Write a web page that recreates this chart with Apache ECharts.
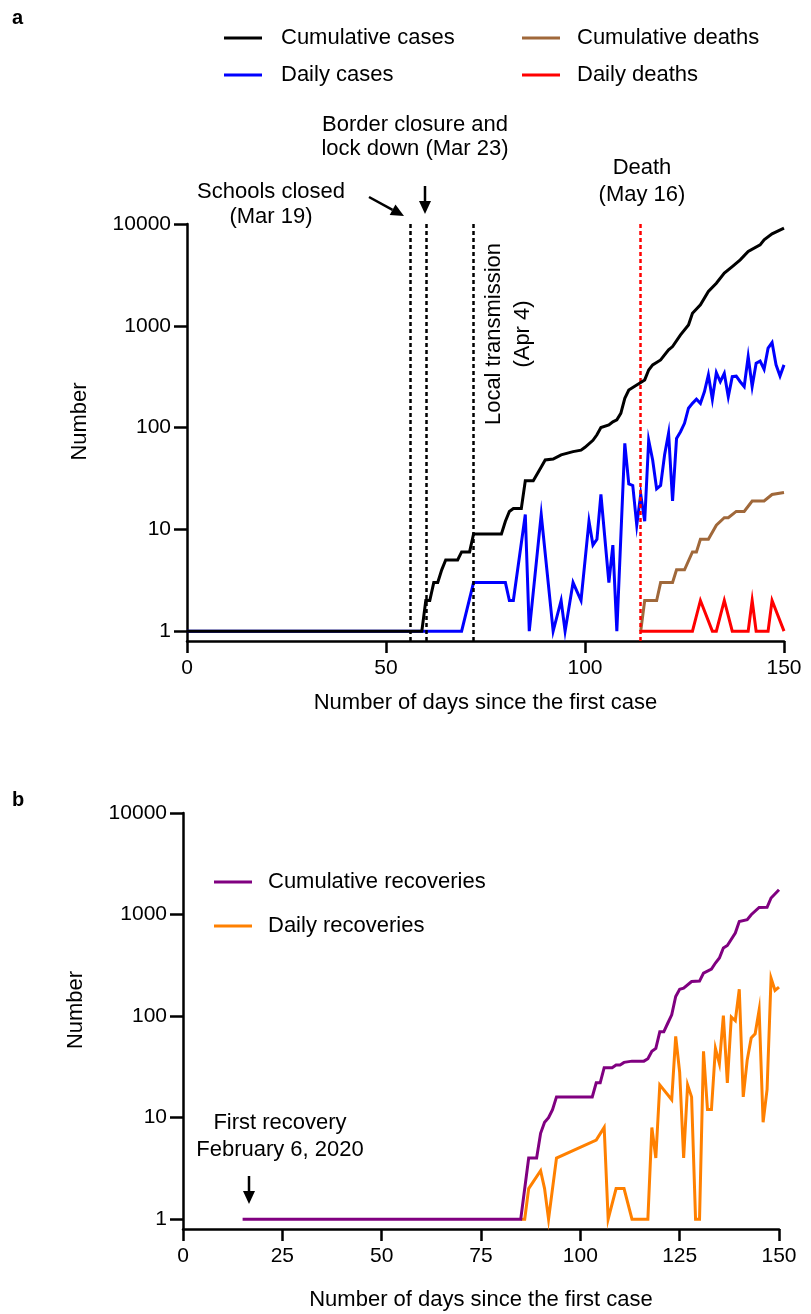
<!DOCTYPE html>
<html>
<head>
    <meta charset="UTF-8">
    <script src="https://cdn.jsdelivr.net/npm/echarts@6/dist/echarts.min.js"></script>
    <style>
        body { margin: 0; background: #fff; }
        #chart { width: 811px; height: 1314px; }
    </style>
</head>
<body>
<div id="chart"></div>
<script>
    // panel a - cases and deaths (x = days since first case)
    const cumCasesDay = [0, 59, 60, 61, 62, 63, 64, 65, 68, 69, 71, 72, 79, 80, 81, 82, 84, 85, 87, 89, 90, 92, 94, 97, 99, 100, 102, 103, 104, 106, 107, 108, 109, 110, 111, 113, 115, 116, 117, 119, 121, 122, 124, 126, 127, 129, 131, 133, 135, 137, 139, 141, 144, 145, 147, 150];
    const cumCases = [1, 1, 2, 2, 3, 3, 4, 5, 5, 6, 6, 9, 9, 12, 15, 16, 16, 30, 30, 41, 48, 49, 54, 58, 60, 64, 75, 85, 100, 106, 114, 119, 138, 194, 234, 262, 294, 368, 413, 462, 580, 625, 813, 1020, 1330, 1605, 2170, 2620, 3290, 3820, 4450, 5370, 6240, 7000, 8010, 9120];

    const dailyCasesDay = [0, 60, 69, 72, 80, 81, 82, 85, 86, 89, 92, 94, 95, 97, 99, 101, 102, 103, 104, 106, 107, 108, 110, 111, 112, 113, 114, 115, 116, 117, 118, 119, 120, 121, 122, 123, 124, 125, 126, 127, 128, 129, 130, 131, 132, 133, 134, 135, 136, 137, 138, 139, 140, 141, 142, 143, 144, 145, 146, 147, 148, 149, 150];
    const dailyCases = [1, 1, 1, 3, 3, 2, 2, 14, 1, 14, 1, 2, 1, 3, 2, 12, 7, 8, 22, 3, 7, 1, 70, 28, 27, 11, 22, 12, 75, 48, 25, 27, 54, 88, 19, 78, 91, 110, 155, 173, 190, 173, 225, 329, 190, 347, 282, 340, 201, 316, 320, 282, 253, 498, 253, 429, 450, 374, 603, 684, 413, 321, 413];

    const cumDeathsDay = [114, 115, 118, 119, 122, 123, 125, 127, 128, 129, 131, 133, 135, 136, 138, 140, 142, 145, 147, 150];
    const cumDeaths = [1, 2, 2, 3, 3, 4, 4, 6, 6, 8, 8, 11, 13, 13, 15, 15, 19, 19, 22, 23];

    const dailyDeathsDay = [114, 127, 129, 132, 133, 135, 137, 141, 142, 143, 146, 147, 150];
    const dailyDeaths = [1, 1, 2, 1, 1, 2, 1, 1, 2, 1, 1, 2, 1];

    // schools closed, lock down, local transmission / first death
    const eventDays = [56, 60, 72];
    const deathDay = 114;

    // panel b - recoveries
    const cumRecDay = [15, 85, 87, 89, 90, 91, 92, 93, 94, 103, 104, 105, 106, 108, 109, 110, 111, 113, 116, 117, 118, 119, 120, 121, 122, 123, 124, 125, 126, 128, 130, 131, 133, 134, 135, 136, 137, 139, 140, 142, 143, 145, 147, 148, 150];
    const cumRec = [1, 1, 4, 4, 7, 9, 10, 12, 16, 16, 22, 22, 31, 31, 33, 33, 35, 36, 36, 38, 45, 48, 70, 70, 85, 103, 156, 184, 188, 219, 221, 265, 290, 333, 373, 468, 496, 657, 855, 889, 995, 1175, 1180, 1455, 1755];

    const dailyRecDay = [85, 86, 87, 90, 91, 92, 94, 104, 106, 107, 109, 111, 113, 117, 118, 119, 120, 123, 124, 125, 126, 127, 128, 129, 130, 131, 132, 133, 134, 135, 136, 137, 138, 139, 140, 141, 142, 143, 144, 145, 146, 147, 148, 149, 150];
    const dailyRec = [1, 1, 2, 3, 2, 1, 4, 6, 8, 1, 2, 2, 1, 1, 8, 4, 21, 15, 63, 28, 4, 21, 16, 1, 1, 45, 12, 12, 48, 34, 101, 22, 98, 90, 184, 16, 37, 61, 67, 115, 9, 19, 237, 179, 193];

    const yTicks = [1, 10, 100, 1000, 10000];

    const FONT = '"Liberation Sans", Arial, sans-serif';

    function pairs(days, vals) {
        return days.map(function (d, i) { return [d, vals[i]]; });
    }

    function line(name, days, vals, color, idx, z) {
        return {
            name: name,
            type: 'line',
            xAxisIndex: idx,
            yAxisIndex: idx,
            data: pairs(days, vals),
            color: color,
            symbol: 'none',
            z: z,
            silent: true,
            lineStyle: {color: color, width: 3, join: 'miter'},
            emphasis: {disabled: true}
        };
    }

    function xAxis(idx, interval, gap) {
        return {
            type: 'value', gridIndex: idx, min: 0, max: 150, interval: interval,
            axisLine: {show: true, onZero: false, lineStyle: {color: '#000', width: 2.5}},
            axisTick: {show: true, length: 12, lineStyle: {color: '#000', width: 2.5}},
            axisLabel: {fontSize: 21, color: '#000', margin: 17, fontFamily: FONT},
            splitLine: {show: false},
            name: 'Number of days since the first case',
            nameLocation: 'middle', nameGap: gap,
            nameTextStyle: {fontSize: 22, color: '#000', fontFamily: FONT}
        };
    }

    function yAxis(idx) {
        return {
            type: 'log', gridIndex: idx, min: 0.8, max: 10000,
            axisLine: {show: true, lineStyle: {color: '#000', width: 2.5}},
            axisTick: {show: true, length: 13, lineStyle: {color: '#000', width: 2.5}, customValues: yTicks},
            axisLabel: {
                fontSize: 21, color: '#000', margin: 16, fontFamily: FONT, customValues: yTicks,
                formatter: function (v) { return String(Math.round(v)); }
            },
            splitLine: {show: false},
            minorTick: {show: false},
            name: 'Number', nameLocation: 'middle', nameGap: 96,
            nameTextStyle: {fontSize: 22, color: '#000', fontFamily: FONT, padding: [0, 0, 0, 22]}
        };
    }

    function legend(names, left, top, gap, textPad) {
        return {
            data: names, orient: 'vertical', left: left, top: top, padding: 0,
            itemWidth: 38, itemHeight: 3, itemGap: gap, icon: 'rect',
            textStyle: {fontSize: 22, color: '#000', fontFamily: FONT, lineHeight: 24, padding: [0, 0, 0, textPad]}
        };
    }

    function arrow(x1, y1, x2, y2) {
        const a = Math.atan2(y2 - y1, x2 - x1);
        const L = 13, W = 6;
        const bx = x2 - L * Math.cos(a), by = y2 - L * Math.sin(a);
        const px = -Math.sin(a) * W, py = Math.cos(a) * W;
        return [
            {type: 'line', shape: {x1: x1, y1: y1, x2: bx, y2: by}, style: {stroke: '#000', lineWidth: 2.5}},
            {type: 'polygon', shape: {points: [[x2, y2], [bx + px, by + py], [bx - px, by - py]]}, style: {fill: '#000'}}
        ];
    }

    function label(text, x, y, lh, extra) {
        return Object.assign({
            type: 'text', x: x, y: y,
            style: {text: text, x: 0, y: 0, align: 'center', verticalAlign: 'middle', lineHeight: lh,
                fontSize: 22, fill: '#000', fontFamily: FONT}
        }, extra || {});
    }

    const cases = line('Cumulative cases', cumCasesDay, cumCases, '#000000', 0, 6);
    cases.markLine = {
        silent: true, symbol: 'none', label: {show: false},
        lineStyle: {color: '#000', width: 2.5, type: [4, 3]},
        data: eventDays.map(function (d) { return {xAxis: d}; })
    };
    const deaths = line('Daily deaths', dailyDeathsDay, dailyDeaths, '#ff0000', 0, 5);
    deaths.markLine = {
        silent: true, symbol: 'none', label: {show: false},
        lineStyle: {color: '#ff0000', width: 2.5, type: [4, 3]},
        data: [{xAxis: deathDay}]
    };

    const chart = echarts.init(document.getElementById('chart'));
    chart.setOption({
        animation: false,
        backgroundColor: '#fff',
        textStyle: {fontFamily: FONT},
        grid: [
            {left: 187, top: 224, width: 597, height: 417, outerBoundsMode: 'none'},
            {left: 183, top: 813, width: 596, height: 416, outerBoundsMode: 'none'}
        ],
        legend: [
            legend(['Cumulative cases', 'Daily cases'], 224, 26, 13, 14),
            legend(['Cumulative deaths', 'Daily deaths'], 522, 26, 13, 12),
            legend(['Cumulative recoveries', 'Daily recoveries'], 214, 870, 20, 11)
        ],
        xAxis: [xAxis(0, 50, 51), xAxis(1, 25, 60)],
        yAxis: [yAxis(0), yAxis(1)],
        series: [
            line('Daily cases', dailyCasesDay, dailyCases, '#0000ff', 0, 3),
            line('Cumulative deaths', cumDeathsDay, cumDeaths, '#a0683a', 0, 4),
            deaths,
            cases,
            line('Daily recoveries', dailyRecDay, dailyRec, '#ff8000', 1, 3),
            line('Cumulative recoveries', cumRecDay, cumRec, '#800080', 1, 4)
        ],
        graphic: [
            {type: 'text', x: 12, y: 8, style: {text: 'a', fontSize: 20, fontWeight: 'bold', fill: '#000', fontFamily: FONT}},
            {type: 'text', x: 12, y: 790, style: {text: 'b', fontSize: 20, fontWeight: 'bold', fill: '#000', fontFamily: FONT}},
            label('Border closure and\nlock down (Mar 23)', 415, 137, 24),
            label('Schools closed\n(Mar 19)', 271, 204, 25),
            label('Death\n(May 16)', 642, 181, 27),
            label('Local transmission\n(Apr 4)', 508, 334, 29, {rotation: Math.PI / 2}),
            label('First recovery\nFebruary 6, 2020', 280, 1136, 27)
        ].concat(arrow(425, 186, 425, 214), arrow(369, 197, 404, 216), arrow(249, 1176, 249, 1204))
    });
</script>
</body>
</html>
